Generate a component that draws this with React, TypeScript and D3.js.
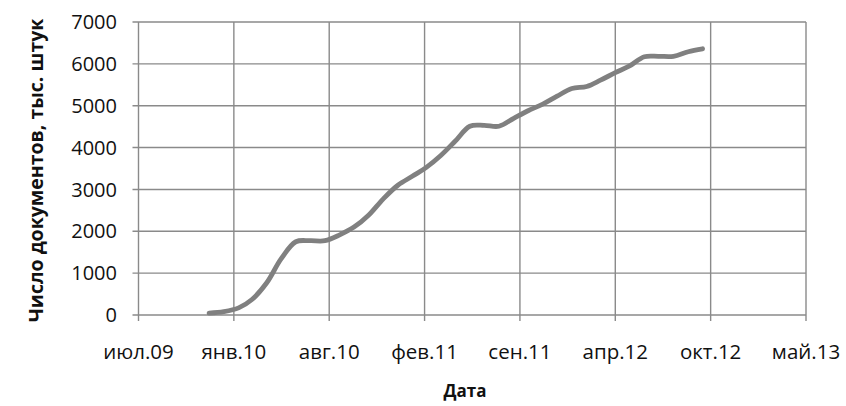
import React from "react";
import * as d3 from "d3";

// monthly totals, thousand documents
const months = [
  "2009-12-01", "2010-01-01", "2010-02-01", "2010-03-01", "2010-04-01", "2010-05-01",
  "2010-06-01", "2010-07-01", "2010-08-01", "2010-09-01", "2010-10-01", "2010-11-01",
  "2010-12-01", "2011-01-01", "2011-02-01", "2011-03-01", "2011-04-01", "2011-05-01",
  "2011-06-01", "2011-07-01", "2011-08-01", "2011-09-01", "2011-10-01", "2011-11-01",
  "2011-12-01", "2012-01-01", "2012-02-01", "2012-03-01", "2012-04-01", "2012-05-01",
  "2012-06-01", "2012-07-01", "2012-08-01", "2012-09-01", "2012-10-01",
];
const docs = [
  45, 80, 170, 370, 770, 1340,
  1750, 1775, 1775, 1915, 2100, 2390,
  2770, 3100, 3320, 3520, 3810, 4150,
  4510, 4530, 4510, 4700, 4880, 5040,
  5230, 5410, 5460, 5610, 5790, 5950,
  6170, 6180, 6180, 6290, 6360,
];

// x axis ticks (every 200 days, excel style)
const xTickDates = [
  "2009-07-06", "2010-01-22", "2010-08-10", "2011-02-26",
  "2011-09-14", "2012-04-01", "2012-10-18", "2013-05-06",
];
const xTickLabels = ["июл.09", "янв.10", "авг.10", "фев.11", "сен.11", "апр.12", "окт.12", "май.13"];
const yTicks = [0, 1000, 2000, 3000, 4000, 5000, 6000, 7000];

const width = 846;
const height = 406;
const margin = { top: 22, right: 40, bottom: 91, left: 138.5 };
const font = "'Open Sans', sans-serif";
const gridColor = "#8a8a8a";

const parse = d3.utcParse("%Y-%m-%d");

const App = () => {
  const ticks = xTickDates.map((d) => parse(d) as Date);
  const data = months.map((m, i) => ({ date: parse(m) as Date, value: docs[i] }));

  const bottom = height - margin.bottom;
  const right = width - margin.right;

  const xScale = d3
    .scaleUtc()
    .domain([ticks[0], ticks[ticks.length - 1]])
    .range([margin.left, right]);

  const yScale = d3.scaleLinear().domain([0, 7000]).range([bottom, margin.top]);

  const line = d3
    .line<{ date: Date; value: number }>()
    .x((d) => xScale(d.date))
    .y((d) => yScale(d.value))
    .curve(d3.curveCatmullRom.alpha(0.5));

  return (
    <svg
      width={width}
      height={height}
      viewBox={`0 0 ${width} ${height}`}
      style={{ position: "absolute", left: 0, top: 0, background: "#fff" }}
    >
      <g className="grid">
        {yTicks.map((t) => (
          <line
            key={`h${t}`}
            x1={margin.left - 6}
            x2={right}
            y1={yScale(t)}
            y2={yScale(t)}
            stroke={gridColor}
            strokeWidth={1.4}
          />
        ))}
        {ticks.map((t, i) => (
          <line
            key={`v${i}`}
            x1={xScale(t)}
            x2={xScale(t)}
            y1={margin.top}
            y2={bottom + 6}
            stroke={gridColor}
            strokeWidth={1.4}
          />
        ))}
      </g>

      <g className="y-axis" fontFamily={font} fontSize={20} fill="#111">
        {yTicks.map((t) => (
          <text key={t} x={117} y={yScale(t)} dy="0.36em" textAnchor="end">
            {t}
          </text>
        ))}
      </g>

      <g className="x-axis" fontFamily={font} fontSize={20.5} fill="#111">
        {ticks.map((t, i) => (
          <text key={i} x={xScale(t)} y={359} textAnchor="middle">
            {xTickLabels[i]}
          </text>
        ))}
      </g>

      <path d={line(data) ?? ""} fill="none" stroke="#808080" strokeWidth={4.8} strokeLinecap="round" />

      <text x={465} y={397} textAnchor="middle" fontFamily={font} fontSize={17} fontWeight="bold" fill="#111">
        Дата
      </text>
      <text
        transform={`translate(43,${(margin.top + bottom) / 2 + 2}) rotate(-90)`}
        textAnchor="middle"
        fontFamily={font}
        fontSize={19.5}
        fontWeight="bold"
        fill="#111"
      >
        Число документов, тыс. штук
      </text>
    </svg>
  );
};

export default App;
